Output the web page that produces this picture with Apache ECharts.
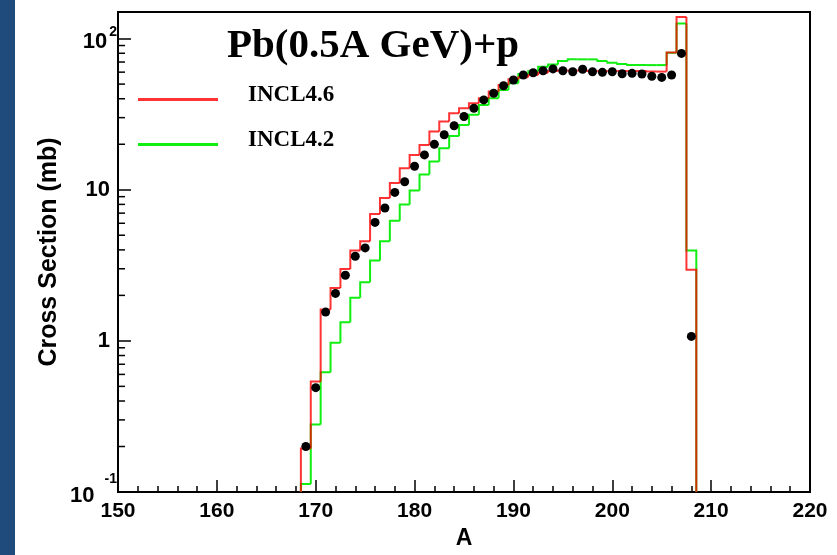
<!DOCTYPE html>
<html><head><meta charset="utf-8">
<script src="https://cdn.jsdelivr.net/npm/echarts@6/dist/echarts.min.js"></script>
<style>html,body{margin:0;padding:0;background:#fff}#c{width:837px;height:555px}</style>
</head><body><div id="c"></div>
<script>
// ---- data ----
const massNumbers = [169,170,171,172,173,174,175,176,177,178,179,180,181,182,183,184,185,186,187,188,189,190,191,192,193,194,195,196,197,198,199,200,201,202,203,204,205,206,207,208];
const incl46 = [0.194,0.538,1.61,2.24,2.99,3.96,4.56,6.91,8.81,11.07,13.9,17.0,19.8,24.3,28.3,32.1,34.6,37.3,40.3,44.6,49.3,53.8,55.5,57.5,59.5,61,61.5,61.5,61.5,61,61,61,61,61,61,60.5,60.5,81,139,2.96];
const incl42 = [0.113,0.28,0.62,0.97,1.33,1.93,2.44,3.40,4.56,6.24,8.0,9.9,12.6,15.4,18.8,22.7,26.8,31.3,36.4,40.3,45.7,50.6,58.3,60.8,65.2,67.5,71.1,72.9,72.9,72.9,71.1,69.2,67.9,67,66.8,66.8,66.8,80.6,126,3.97];
const dataA = [169,170,171,172,173,174,175,176,177,178,179,180,181,182,183,184,185,186,187,188,189,190,191,192,193,194,195,196,197,198,199,200,201,202,203,204,205,206,207,208];
const dataXS = [0.20,0.49,1.55,2.06,2.72,3.63,4.12,6.08,7.57,9.6,11.3,14.3,17.0,20.0,23.1,26.5,30.5,34.6,39.3,43.5,48.8,53.2,57.4,59.4,61.3,63,61.3,60.4,62.7,60.4,59.8,60.4,58.5,58.9,58.3,56.4,55.4,57.4,79.8,1.07];
const xTickValues = [150,160,170,180,190,200,210,220];
const yMajorTicks = [0.1,1,10,100];
const yMinorTicks = [0.2,0.3,0.4,0.5,0.6,0.7,0.8,0.9,2,3,4,5,6,7,8,9,20,30,40,50,60,70,80,90];
const X_MIN = 150, X_MAX = 220, Y_MIN = 0.1, Y_MAX = 150;

const chart = echarts.init(document.getElementById('c'), null, {renderer:'canvas'});

function histSeries(name, values, color, opacity, z) {
  return {
    type:'custom', name, z, clip:false,
    data: massNumbers.map((a,i)=>[a, values[i]]),
    encode:{x:0, y:1},
    itemStyle:{color},
    renderItem(params, api){
      const i = params.dataIndex;
      const a = api.value(0), v = api.value(1);
      const prev = i > 0 ? values[i-1] : 0;
      const yp = y => api.coord([a, Math.min(Math.max(y, Y_MIN), Y_MAX)])[1];
      const xl = api.coord([a-0.5, Y_MIN])[0], xr = api.coord([a+0.5, Y_MIN])[0];
      const pts = [[xl, yp(prev)], [xl, yp(v)], [xr, yp(v)]];
      if (i === values.length-1) pts.push([xr, yp(0)]);
      return {type:'polyline', shape:{points:pts}, style:{stroke:color, lineWidth:2, fill:null, opacity}};
    }
  };
}

const sans = 'Liberation Sans, Arial, Helvetica, sans-serif';
const serif = 'Liberation Serif, Times New Roman, serif';

function yLabel(v){
  const e = Math.log10(v);
  const r = Math.round(e);
  if (Math.abs(e - r) > 1e-6) return '';
  if (r === 0) return '{p|1}';
  if (r === 1) return '{p|10}';
  if (r === -1) return '{bm|10}{sm|-1}';
  return '{bt|10}{st|' + r + '}';
}

const legendText = {fontFamily:serif, fontWeight:'bold', fontSize:23, color:'#000',
  rich:{t:{fontFamily:serif, fontWeight:'bold', fontSize:23, color:'#000', padding:[0,0,8,25]}}};

chart.setOption({
  animation:false,
  backgroundColor:'#fff',
  graphic:[{type:'rect', left:0, top:0, shape:{width:15, height:555}, style:{fill:'#1f4b7c'}, silent:true}],
  title:{text:'Pb(0.5A GeV)+p', left:227, top:26, padding:0,
    textStyle:{fontFamily:serif, fontWeight:'bold', fontSize:41, color:'#000'}},
  legend:[
    {data:[{name:'INCL4.6', itemStyle:{color:'#ff3333'}}], orient:'vertical', left:138, top:84,
      itemWidth:80, itemHeight:3, icon:'rect', selectedMode:false, padding:0, formatter:'{t|{name}}', textStyle:legendText},
    {data:[{name:'INCL4.2', itemStyle:{color:'#11ee11'}}], orient:'vertical', left:138, top:129,
      itemWidth:80, itemHeight:3, icon:'rect', selectedMode:false, padding:0, formatter:'{t|{name}}', textStyle:legendText}
  ],
  grid:{left:118, top:12, width:692, height:481, show:true, borderColor:'#000', borderWidth:2, backgroundColor:'#fff'},
  xAxis:{type:'value', min:X_MIN, max:X_MAX, interval:10,
    axisLine:{lineStyle:{color:'#000', width:2}},
    axisTick:{inside:true, length:12, lineStyle:{color:'#000', width:1.5}},
    minorTick:{show:true, splitNumber:5, length:6, lineStyle:{color:'#000', width:1.5}},
    splitLine:{show:false},
    axisLabel:{margin:9, fontFamily:sans, fontWeight:'bold', fontSize:21, color:'#000',
      formatter: v => xTickValues.includes(v) ? String(v) : ''},
    name:'A', nameLocation:'middle', nameGap:35, nameMoveOverlap:false,
    nameTextStyle:{fontFamily:sans, fontWeight:'bold', fontSize:23, color:'#000'}
  },
  yAxis:{type:'log', logBase:10, min:Y_MIN, max:Y_MAX,
    axisLine:{show:true, lineStyle:{color:'#000', width:2}},
    axisTick:{show:true, inside:true, length:13, lineStyle:{color:'#000', width:1.5}},
    splitLine:{show:false},
    axisLabel:{margin:1, showMaxLabel:false, color:'#000', formatter:yLabel,
      rich:{
        p:{fontFamily:sans, fontWeight:'bold', fontSize:22, color:'#000', padding:[0,7,0,0]},
        bt:{fontFamily:sans, fontWeight:'bold', fontSize:22, color:'#000', padding:[5,0,0,0], verticalAlign:'top', lineHeight:26},
        st:{fontFamily:sans, fontWeight:'bold', fontSize:14, color:'#000', padding:[0,0,0,2], verticalAlign:'top', lineHeight:14},
        bm:{fontFamily:sans, fontWeight:'bold', fontSize:22, color:'#000', padding:[15,0,0,0], verticalAlign:'top', lineHeight:44},
        sm:{fontFamily:sans, fontWeight:'bold', fontSize:14, color:'#000', padding:[2,0,0,10], verticalAlign:'top', lineHeight:14}
      }},
    name:'Cross Section (mb)', nameLocation:'middle', nameGap:56, nameMoveOverlap:false,
    nameTextStyle:{fontFamily:sans, fontWeight:'bold', fontSize:25, color:'#000'}
  },
  series:[
    {type:'custom', name:'minorY', clip:false, silent:true, z:3,
      data: yMinorTicks.map(v=>[X_MIN, v]), encode:{x:0,y:1},
      renderItem(params, api){
        const p = api.coord([api.value(0), api.value(1)]);
        return {type:'line', shape:{x1:p[0], y1:p[1], x2:p[0]+7, y2:p[1]}, style:{stroke:'#000', lineWidth:1.5}};
      }},
    histSeries('INCL4.2', incl42, '#11ee11', 1, 2),
    histSeries('INCL4.6', incl46, '#ff0000', 0.8, 3),
    {type:'scatter', name:'data', data: dataA.map((a,i)=>[a, dataXS[i]]), symbol:'circle', symbolSize:9,
      itemStyle:{color:'#000', opacity:1}, z:5}
  ]
});
</script></body></html>
